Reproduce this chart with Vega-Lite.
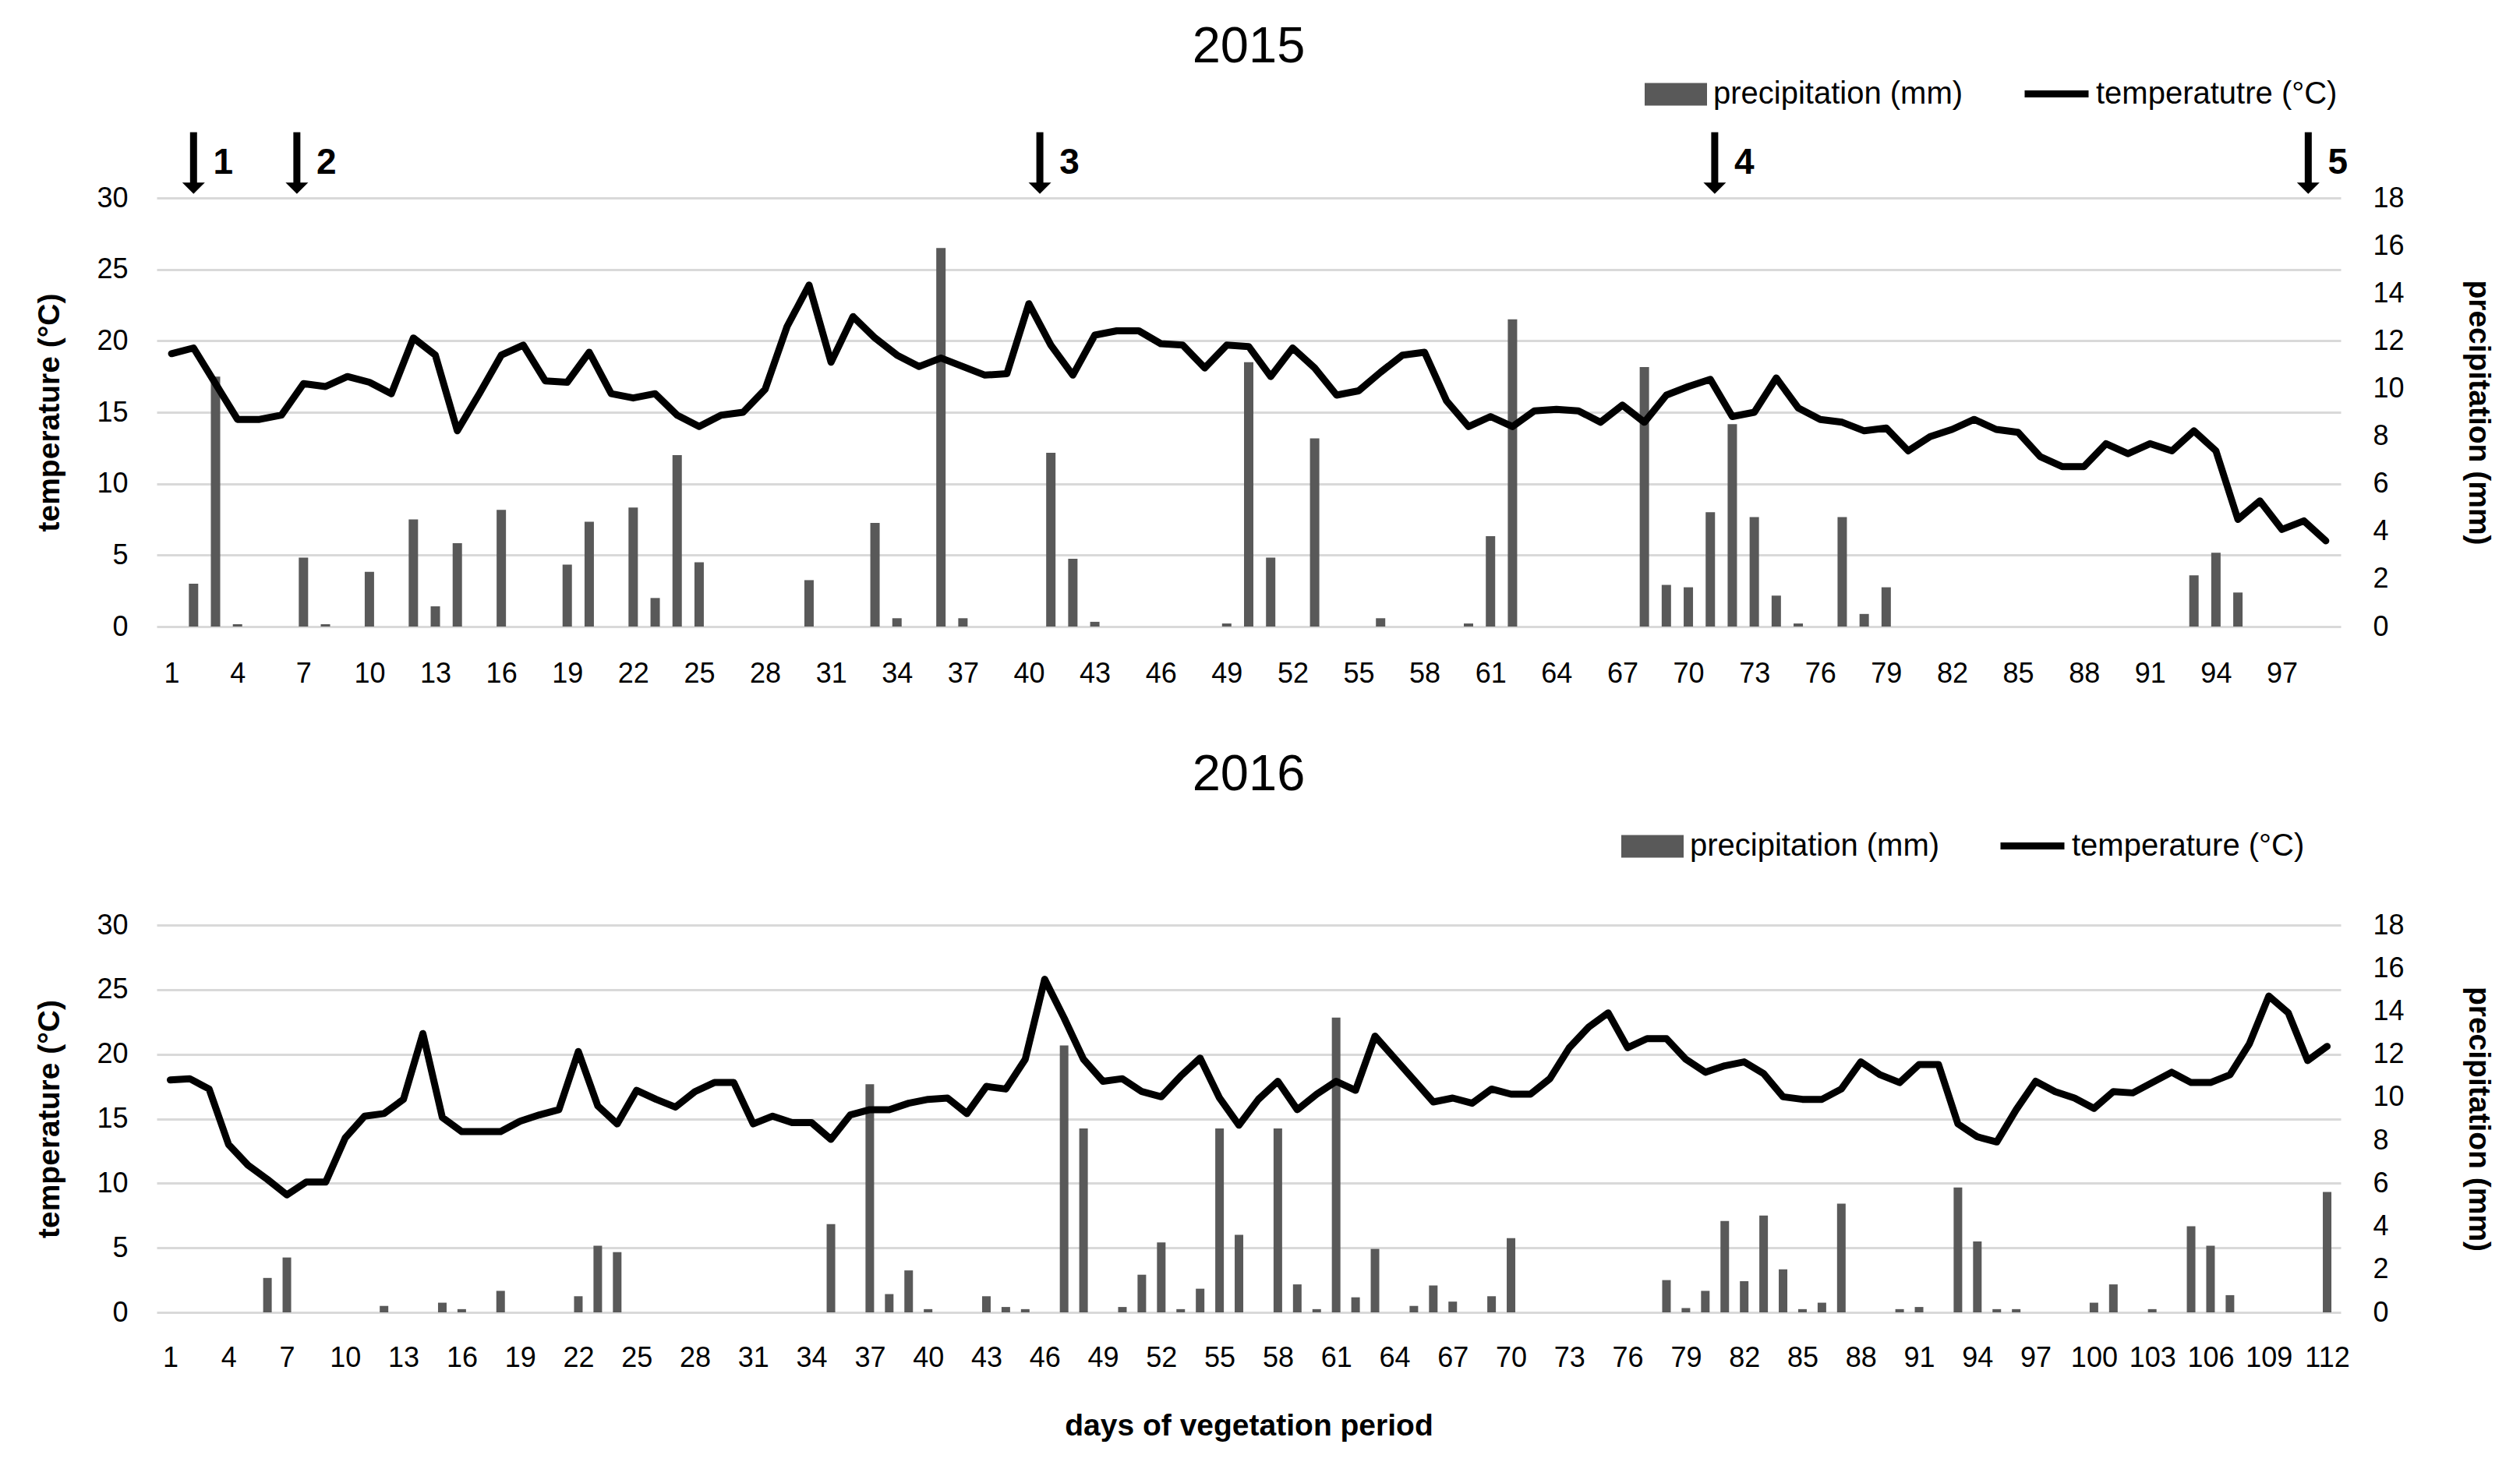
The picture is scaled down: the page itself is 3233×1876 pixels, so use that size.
{
  "$schema": "https://vega.github.io/schema/vega-lite/v6.json",
  "background": "white",
  "padding": {"left": 44, "top": 28, "right": 10, "bottom": 10},
  "bounds": "flush",
  "spacing": 383,
  "resolve": {"scale": {"fill": "independent", "stroke": "independent"}, "legend": {"fill": "independent", "stroke": "independent"}},
  "config": {
    "font": "Liberation Sans",
    "view": {"stroke": null},
    "axis": {"domain": false, "ticks": false, "labelFontSize": 36, "labelColor": "#000000", "titleFontSize": 39, "titleFontWeight": "bold", "titleColor": "#000000", "gridColor": "#d9d9d9", "gridWidth": 3},
    "title": {"fontSize": 65, "fontWeight": "normal", "color": "#000000", "frame": "group", "anchor": "middle"},
    "legend": {"labelFontSize": 40, "labelColor": "#000000", "padding": 0, "title": null, "labelLimit": 2000}
  },
  "datasets": {
    "d2015": [
      {"day":1,"temp":19.1,"precip":0},{"day":2,"temp":19.5,"precip":1.8},{"day":3,"temp":17.0,"precip":10.5},{"day":4,"temp":14.5,"precip":0.1},{"day":5,"temp":14.5,"precip":0},{"day":6,"temp":14.8,"precip":0},{"day":7,"temp":17.0,"precip":2.9},{"day":8,"temp":16.8,"precip":0.1},{"day":9,"temp":17.5,"precip":0},{"day":10,"temp":17.1,"precip":2.3},
      {"day":11,"temp":16.3,"precip":0},{"day":12,"temp":20.2,"precip":4.5},{"day":13,"temp":19.0,"precip":0.85},{"day":14,"temp":13.7,"precip":3.5},{"day":15,"temp":16.3,"precip":0},{"day":16,"temp":19.0,"precip":4.9},{"day":17,"temp":19.7,"precip":0},{"day":18,"temp":17.2,"precip":0},{"day":19,"temp":17.1,"precip":2.6},{"day":20,"temp":19.2,"precip":4.4},
      {"day":21,"temp":16.3,"precip":0},{"day":22,"temp":16.0,"precip":5.0},{"day":23,"temp":16.3,"precip":1.2},{"day":24,"temp":14.8,"precip":7.2},{"day":25,"temp":14.0,"precip":2.7},{"day":26,"temp":14.8,"precip":0},{"day":27,"temp":15.0,"precip":0},{"day":28,"temp":16.6,"precip":0},{"day":29,"temp":21.0,"precip":0},{"day":30,"temp":23.9,"precip":1.95},
      {"day":31,"temp":18.5,"precip":0},{"day":32,"temp":21.7,"precip":0},{"day":33,"temp":20.2,"precip":4.35},{"day":34,"temp":19.0,"precip":0.35},{"day":35,"temp":18.2,"precip":0},{"day":36,"temp":18.8,"precip":15.9},{"day":37,"temp":18.2,"precip":0.35},{"day":38,"temp":17.6,"precip":0},{"day":39,"temp":17.7,"precip":0},{"day":40,"temp":22.6,"precip":0},
      {"day":41,"temp":19.7,"precip":7.3},{"day":42,"temp":17.6,"precip":2.85},{"day":43,"temp":20.4,"precip":0.2},{"day":44,"temp":20.7,"precip":0},{"day":45,"temp":20.7,"precip":0},{"day":46,"temp":19.8,"precip":0},{"day":47,"temp":19.7,"precip":0},{"day":48,"temp":18.1,"precip":0},{"day":49,"temp":19.7,"precip":0.13},{"day":50,"temp":19.6,"precip":11.1},
      {"day":51,"temp":17.5,"precip":2.9},{"day":52,"temp":19.5,"precip":0},{"day":53,"temp":18.1,"precip":7.9},{"day":54,"temp":16.2,"precip":0},{"day":55,"temp":16.5,"precip":0},{"day":56,"temp":17.8,"precip":0.35},{"day":57,"temp":19.0,"precip":0},{"day":58,"temp":19.2,"precip":0},{"day":59,"temp":15.8,"precip":0},{"day":60,"temp":14.0,"precip":0.13},
      {"day":61,"temp":14.7,"precip":3.8},{"day":62,"temp":14.0,"precip":12.9},{"day":63,"temp":15.1,"precip":0},{"day":64,"temp":15.2,"precip":0},{"day":65,"temp":15.1,"precip":0},{"day":66,"temp":14.3,"precip":0},{"day":67,"temp":15.5,"precip":0},{"day":68,"temp":14.3,"precip":10.9},{"day":69,"temp":16.2,"precip":1.75},{"day":70,"temp":16.8,"precip":1.65},
      {"day":71,"temp":17.3,"precip":4.8},{"day":72,"temp":14.7,"precip":8.5},{"day":73,"temp":15.0,"precip":4.6},{"day":74,"temp":17.4,"precip":1.3},{"day":75,"temp":15.3,"precip":0.13},{"day":76,"temp":14.5,"precip":0},{"day":77,"temp":14.3,"precip":4.6},{"day":78,"temp":13.7,"precip":0.53},{"day":79,"temp":13.9,"precip":1.65},{"day":80,"temp":12.3,"precip":0},
      {"day":81,"temp":13.3,"precip":0},{"day":82,"temp":13.8,"precip":0},{"day":83,"temp":14.5,"precip":0},{"day":84,"temp":13.8,"precip":0},{"day":85,"temp":13.6,"precip":0},{"day":86,"temp":11.9,"precip":0},{"day":87,"temp":11.2,"precip":0},{"day":88,"temp":11.2,"precip":0},{"day":89,"temp":12.8,"precip":0},{"day":90,"temp":12.1,"precip":0},
      {"day":91,"temp":12.8,"precip":0},{"day":92,"temp":12.3,"precip":0},{"day":93,"temp":13.7,"precip":2.15},{"day":94,"temp":12.3,"precip":3.1},{"day":95,"temp":7.5,"precip":1.43},{"day":96,"temp":8.8,"precip":0},{"day":97,"temp":6.8,"precip":0},{"day":98,"temp":7.4,"precip":0},{"day":99,"temp":6.0,"precip":0}
    ],
    "arrows2015": [
      {"day":2,"label":"1"},{"day":6.7,"label":"2"},{"day":40.5,"label":"3"},{"day":71.2,"label":"4"},{"day":98.2,"label":"5"}
    ],
    "d2016": [
      {"day":1,"temp":18.0,"precip":0},{"day":2,"temp":18.1,"precip":0},{"day":3,"temp":17.3,"precip":0},{"day":4,"temp":13.0,"precip":0},{"day":5,"temp":11.4,"precip":0},{"day":6,"temp":10.3,"precip":1.6},{"day":7,"temp":9.1,"precip":2.55},{"day":8,"temp":10.1,"precip":0},{"day":9,"temp":10.1,"precip":0},{"day":10,"temp":13.5,"precip":0},
      {"day":11,"temp":15.2,"precip":0},{"day":12,"temp":15.4,"precip":0.3},{"day":13,"temp":16.5,"precip":0},{"day":14,"temp":21.6,"precip":0},{"day":15,"temp":15.1,"precip":0.45},{"day":16,"temp":14.0,"precip":0.15},{"day":17,"temp":14.0,"precip":0},{"day":18,"temp":14.0,"precip":1.0},{"day":19,"temp":14.8,"precip":0},{"day":20,"temp":15.3,"precip":0},
      {"day":21,"temp":15.7,"precip":0},{"day":22,"temp":20.2,"precip":0.75},{"day":23,"temp":16.0,"precip":3.1},{"day":24,"temp":14.6,"precip":2.8},{"day":25,"temp":17.2,"precip":0},{"day":26,"temp":16.5,"precip":0},{"day":27,"temp":15.9,"precip":0},{"day":28,"temp":17.1,"precip":0},{"day":29,"temp":17.8,"precip":0},{"day":30,"temp":17.8,"precip":0},
      {"day":31,"temp":14.6,"precip":0},{"day":32,"temp":15.2,"precip":0},{"day":33,"temp":14.7,"precip":0},{"day":34,"temp":14.7,"precip":0},{"day":35,"temp":13.4,"precip":4.1},{"day":36,"temp":15.3,"precip":0},{"day":37,"temp":15.7,"precip":10.6},{"day":38,"temp":15.7,"precip":0.85},{"day":39,"temp":16.2,"precip":1.95},{"day":40,"temp":16.5,"precip":0.15},
      {"day":41,"temp":16.6,"precip":0},{"day":42,"temp":15.4,"precip":0},{"day":43,"temp":17.5,"precip":0.75},{"day":44,"temp":17.3,"precip":0.25},{"day":45,"temp":19.6,"precip":0.15},{"day":46,"temp":25.8,"precip":0},{"day":47,"temp":22.8,"precip":12.4},{"day":48,"temp":19.6,"precip":8.55},{"day":49,"temp":17.9,"precip":0},{"day":50,"temp":18.1,"precip":0.25},
      {"day":51,"temp":17.1,"precip":1.75},{"day":52,"temp":16.7,"precip":3.25},{"day":53,"temp":18.3,"precip":0.15},{"day":54,"temp":19.7,"precip":1.1},{"day":55,"temp":16.6,"precip":8.55},{"day":56,"temp":14.5,"precip":3.6},{"day":57,"temp":16.5,"precip":0},{"day":58,"temp":17.9,"precip":8.55},{"day":59,"temp":15.7,"precip":1.3},{"day":60,"temp":16.9,"precip":0.15},
      {"day":61,"temp":17.9,"precip":13.7},{"day":62,"temp":17.2,"precip":0.7},{"day":63,"temp":21.4,"precip":2.95},{"day":64,"temp":19.7,"precip":0},{"day":65,"temp":18.0,"precip":0.3},{"day":66,"temp":16.3,"precip":1.25},{"day":67,"temp":16.6,"precip":0.5},{"day":68,"temp":16.2,"precip":0},{"day":69,"temp":17.3,"precip":0.75},{"day":70,"temp":16.9,"precip":3.45},
      {"day":71,"temp":16.9,"precip":0},{"day":72,"temp":18.1,"precip":0},{"day":73,"temp":20.5,"precip":0},{"day":74,"temp":22.1,"precip":0},{"day":75,"temp":23.2,"precip":0},{"day":76,"temp":20.5,"precip":0},{"day":77,"temp":21.2,"precip":0},{"day":78,"temp":21.2,"precip":1.5},{"day":79,"temp":19.6,"precip":0.2},{"day":80,"temp":18.6,"precip":1.0},
      {"day":81,"temp":19.1,"precip":4.25},{"day":82,"temp":19.4,"precip":1.45},{"day":83,"temp":18.5,"precip":4.5},{"day":84,"temp":16.7,"precip":2.0},{"day":85,"temp":16.5,"precip":0.15},{"day":86,"temp":16.5,"precip":0.45},{"day":87,"temp":17.3,"precip":5.05},{"day":88,"temp":19.4,"precip":0},{"day":89,"temp":18.4,"precip":0},{"day":90,"temp":17.8,"precip":0.15},
      {"day":91,"temp":19.2,"precip":0.25},{"day":92,"temp":19.2,"precip":0},{"day":93,"temp":14.6,"precip":5.8},{"day":94,"temp":13.6,"precip":3.3},{"day":95,"temp":13.2,"precip":0.15},{"day":96,"temp":15.7,"precip":0.15},{"day":97,"temp":17.9,"precip":0},{"day":98,"temp":17.1,"precip":0},{"day":99,"temp":16.6,"precip":0},{"day":100,"temp":15.8,"precip":0.45},
      {"day":101,"temp":17.1,"precip":1.3},{"day":102,"temp":17.0,"precip":0},{"day":103,"temp":17.8,"precip":0.15},{"day":104,"temp":18.6,"precip":0},{"day":105,"temp":17.8,"precip":4.0},{"day":106,"temp":17.8,"precip":3.1},{"day":107,"temp":18.4,"precip":0.8},{"day":108,"temp":20.8,"precip":0},{"day":109,"temp":24.5,"precip":0},{"day":110,"temp":23.2,"precip":0},
      {"day":111,"temp":19.5,"precip":0},{"day":112,"temp":20.6,"precip":5.6}
    ]
  },
  "vconcat": [
    {
      "width": 2802,
      "height": 550,
      "title": {"text": "2015", "offset": -19},
      "encoding": {
        "x": {"field": "day", "type": "quantitative", "scale": {"domain": [0.5, 99.5], "nice": false, "zero": false},
              "axis": {"values": [1,4,7,10,13,16,19,22,25,28,31,34,37,40,43,46,49,52,55,58,61,64,67,70,73,76,79,82,85,88,91,94,97], "title": null, "grid": false, "labelPadding": 43}}
      },
      "layer": [
        {
          "data": {"name": "d2015"},
          "mark": {"type": "bar", "width": 12},
          "encoding": {
            "y": {"field": "precip", "type": "quantitative", "scale": {"domain": [0, 18], "nice": false},
                  "axis": {"orient": "right", "values": [0,2,4,6,8,10,12,14,16,18], "grid": false, "title": "precipitation (mm)", "labelPadding": 41, "titlePadding": 75}},
            "fill": {"datum": "precipitation (mm)", "type": "nominal", "scale": {"range": ["#595959"]},
                     "legend": {"orient": "none", "legendX": 1909, "legendY": -173, "symbolType": "M-1,-0.36H1V0.36H-1Z", "symbolSize": 6400, "symbolStrokeWidth": 0, "labelOffset": 8}}
          }
        },
        {
          "data": {"name": "d2015"},
          "mark": {"type": "line", "strokeWidth": 9, "strokeJoin": "round", "strokeCap": "round"},
          "encoding": {
            "y": {"field": "temp", "type": "quantitative", "scale": {"domain": [0, 30], "nice": false},
                  "axis": {"orient": "left", "values": [0,5,10,15,20,25,30], "grid": true, "title": "temperature (°C)", "labelPadding": 37, "titlePadding": 40}},
            "stroke": {"datum": "temperatutre (°C)", "type": "nominal", "scale": {"range": ["#000000"]},
                       "legend": {"orient": "none", "legendX": 2392, "legendY": -179, "symbolType": "stroke", "symbolSize": 6724, "symbolStrokeWidth": 9, "labelOffset": 5}}
          }
        },
        {
          "data": {"name": "arrows2015"},
          "mark": {"type": "rule", "strokeWidth": 9, "color": "#000000"},
          "encoding": {
            "y": {"datum": 34.6, "type": "quantitative", "scale": {"domain": [0, 30], "nice": false}, "axis": null},
            "y2": {"datum": 31.0}
          }
        },
        {
          "data": {"name": "arrows2015"},
          "mark": {"type": "point", "shape": "M-1,-0.5L1,-0.5L0,0.5Z", "filled": true, "color": "#000000", "opacity": 1, "size": 841},
          "encoding": {
            "y": {"datum": 30.68, "type": "quantitative", "scale": {"domain": [0, 30], "nice": false}, "axis": null}
          }
        },
        {
          "data": {"name": "arrows2015"},
          "mark": {"type": "text", "fontSize": 46, "fontWeight": "bold", "align": "center", "baseline": "middle", "dx": 38, "color": "#000000"},
          "encoding": {
            "y": {"datum": 32.45, "type": "quantitative", "scale": {"domain": [0, 30], "nice": false}, "axis": null},
            "text": {"field": "label", "type": "nominal"}
          }
        }
      ],
      "resolve": {"scale": {"y": "independent"}}
    },
    {
      "width": 2802,
      "height": 497,
      "title": {"text": "2016", "offset": 12},
      "encoding": {
        "x": {"field": "day", "type": "quantitative", "scale": {"domain": [0.5, 112.5], "nice": false, "zero": false},
              "axis": {"values": [1,4,7,10,13,16,19,22,25,28,31,34,37,40,43,46,49,52,55,58,61,64,67,70,73,76,79,82,85,88,91,94,97,100,103,106,109,112], "title": "days of vegetation period", "grid": false, "labelPadding": 41, "titlePadding": 50}}
      },
      "layer": [
        {
          "data": {"name": "d2016"},
          "mark": {"type": "bar", "width": 11},
          "encoding": {
            "y": {"field": "precip", "type": "quantitative", "scale": {"domain": [0, 18], "nice": false},
                  "axis": {"orient": "right", "values": [0,2,4,6,8,10,12,14,16,18], "grid": false, "title": "precipitation (mm)", "labelPadding": 41, "titlePadding": 75}},
            "fill": {"datum": "precipitation (mm)", "type": "nominal", "scale": {"range": ["#595959"]},
                     "legend": {"orient": "none", "legendX": 1879, "legendY": -141, "symbolType": "M-1,-0.36H1V0.36H-1Z", "symbolSize": 6400, "symbolStrokeWidth": 0, "labelOffset": 8}}
          }
        },
        {
          "data": {"name": "d2016"},
          "mark": {"type": "line", "strokeWidth": 9, "strokeJoin": "round", "strokeCap": "round"},
          "encoding": {
            "y": {"field": "temp", "type": "quantitative", "scale": {"domain": [0, 30], "nice": false},
                  "axis": {"orient": "left", "values": [0,5,10,15,20,25,30], "grid": true, "title": "temperature (°C)", "labelPadding": 37, "titlePadding": 40}},
            "stroke": {"datum": "temperature (°C)", "type": "nominal", "scale": {"range": ["#000000"]},
                       "legend": {"orient": "none", "legendX": 2361, "legendY": -147, "symbolType": "stroke", "symbolSize": 6724, "symbolStrokeWidth": 9, "labelOffset": 5}}
          }
        }
      ],
      "resolve": {"scale": {"y": "independent"}}
    }
  ]
}
